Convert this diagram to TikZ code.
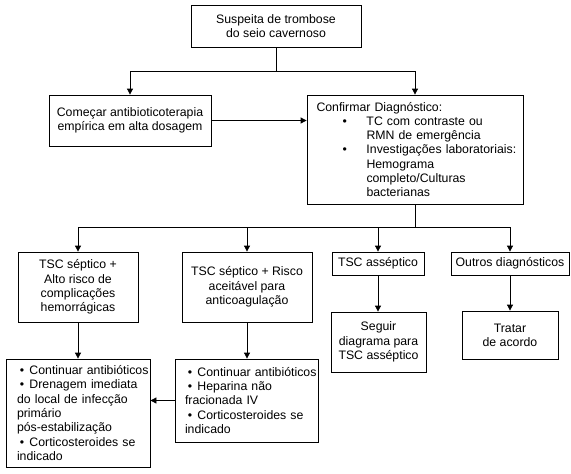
\documentclass[tikz,border=0pt]{standalone}
\usepackage{fontspec}
\setmainfont{Liberation Sans}
\usetikzlibrary{arrows.meta}
\begin{document}
\begin{tikzpicture}[x=1pt,y=-1pt,
  box/.style={draw,line width=0.8pt,inner sep=2pt,font=\fontsize{12.3}{14.3}\selectfont,align=center},
  lbox/.style={draw,line width=0.8pt,inner ysep=2pt,font=\fontsize{12.3}{14.3}\selectfont,align=left},
  link/.style={line width=0.8pt},
  arr/.style={line width=0.8pt,-{Triangle[length=6pt,width=6pt]}}]
\useasboundingbox (0,0) rectangle (571,474);
\newcommand{\blt}{\makebox[12.5pt][l]{\hspace*{2.8pt}\textbullet}}
\newcommand{\bltr}{\makebox[50pt][l]{\hspace*{26pt}\textbullet}}
% nodes
\node[box,minimum width=170pt,minimum height=42pt] (top) at (276,26) {Suspeita de trombose\\do seio cavernoso};
\node[box,minimum width=162pt,minimum height=51pt] (L1) at (130,120.5) {Começar antibioticoterapia\\empírica em alta dosagem};
\node[lbox,inner xsep=9.5pt,text width=197pt,minimum height=109pt] (R1) at (415,149.5)
  {\mbox{Confirmar Diagnóstico:}\\
   \mbox{\bltr TC com contraste ou}\\
   \mbox{\hspace*{50pt}RMN de emergência}\\
   \mbox{\bltr Investigações laboratoriais:}\\
   \mbox{\hspace*{50pt}Hemograma}\\
   \mbox{\hspace*{50pt}completo/Culturas}\\
   \mbox{\hspace*{50pt}bacterianas}};
\node[box,minimum width=120pt,minimum height=70pt] (A) at (78,287) {TSC séptico +\\Alto risco de\\complicações\\hemorrágicas};
\node[box,minimum width=130pt,minimum height=70pt] (B) at (247,287) {TSC séptico + Risco\\aceitável para\\anticoagulação};
\node[box,minimum width=92pt,minimum height=23pt] (C) at (378,263.5) {TSC asséptico};
\node[box,minimum width=118pt,minimum height=23pt] (D) at (510,263.5) {Outros diagnósticos};
\node[lbox,inner xsep=11pt,text width=122pt,minimum height=108pt] (E) at (78,413)
  {\mbox{\blt Continuar antibióticos}\\
   \mbox{\blt Drenagem imediata}\\
   \mbox{do local de infecção}\\
   \mbox{primário}\\
   \mbox{pós-estabilização}\\
   \mbox{\blt Corticosteroides se}\\
   \mbox{indicado}};
\node[lbox,inner xsep=10pt,text width=123pt,minimum height=83pt] (F) at (246.5,400.5)
  {\mbox{\blt Continuar antibióticos}\\
   \mbox{\blt Heparina não}\\
   \mbox{fracionada IV}\\
   \mbox{\blt Corticosteroides se}\\
   \mbox{indicado}};
\node[box,minimum width=95pt,minimum height=60pt] (G) at (378.5,342) {Seguir\\diagrama para\\TSC asséptico};
\node[box,minimum width=96pt,minimum height=48pt] (H) at (510,335) {Tratar\\de acordo};
% connectors
\coordinate (j1) at (276,71);
\coordinate (bus) at (415,227);
\draw[link] (top.south) -- (j1);
\draw[arr] (j1) -| (L1.north);
\draw[arr] (j1) -| (R1.north);
\draw[arr] (L1.east) -- (L1.east -| R1.west);
\draw[link] (R1.south) -- (bus);
\draw[arr] (bus) -| (A.north);
\draw[arr] (bus) -| (B.north);
\draw[arr] (bus) -| (C.north);
\draw[arr] (bus) -| (D.north);
\draw[arr] (A.south) -- (A.south |- E.north);
\draw[arr] (B.south) -- (B.south |- F.north);
\draw[arr] (C.south) -- (C.south |- G.north);
\draw[arr] (D.south) -- (D.south |- H.north);
\draw[arr] (F.west) -- (F.west -| E.east);
\end{tikzpicture}
\end{document}
